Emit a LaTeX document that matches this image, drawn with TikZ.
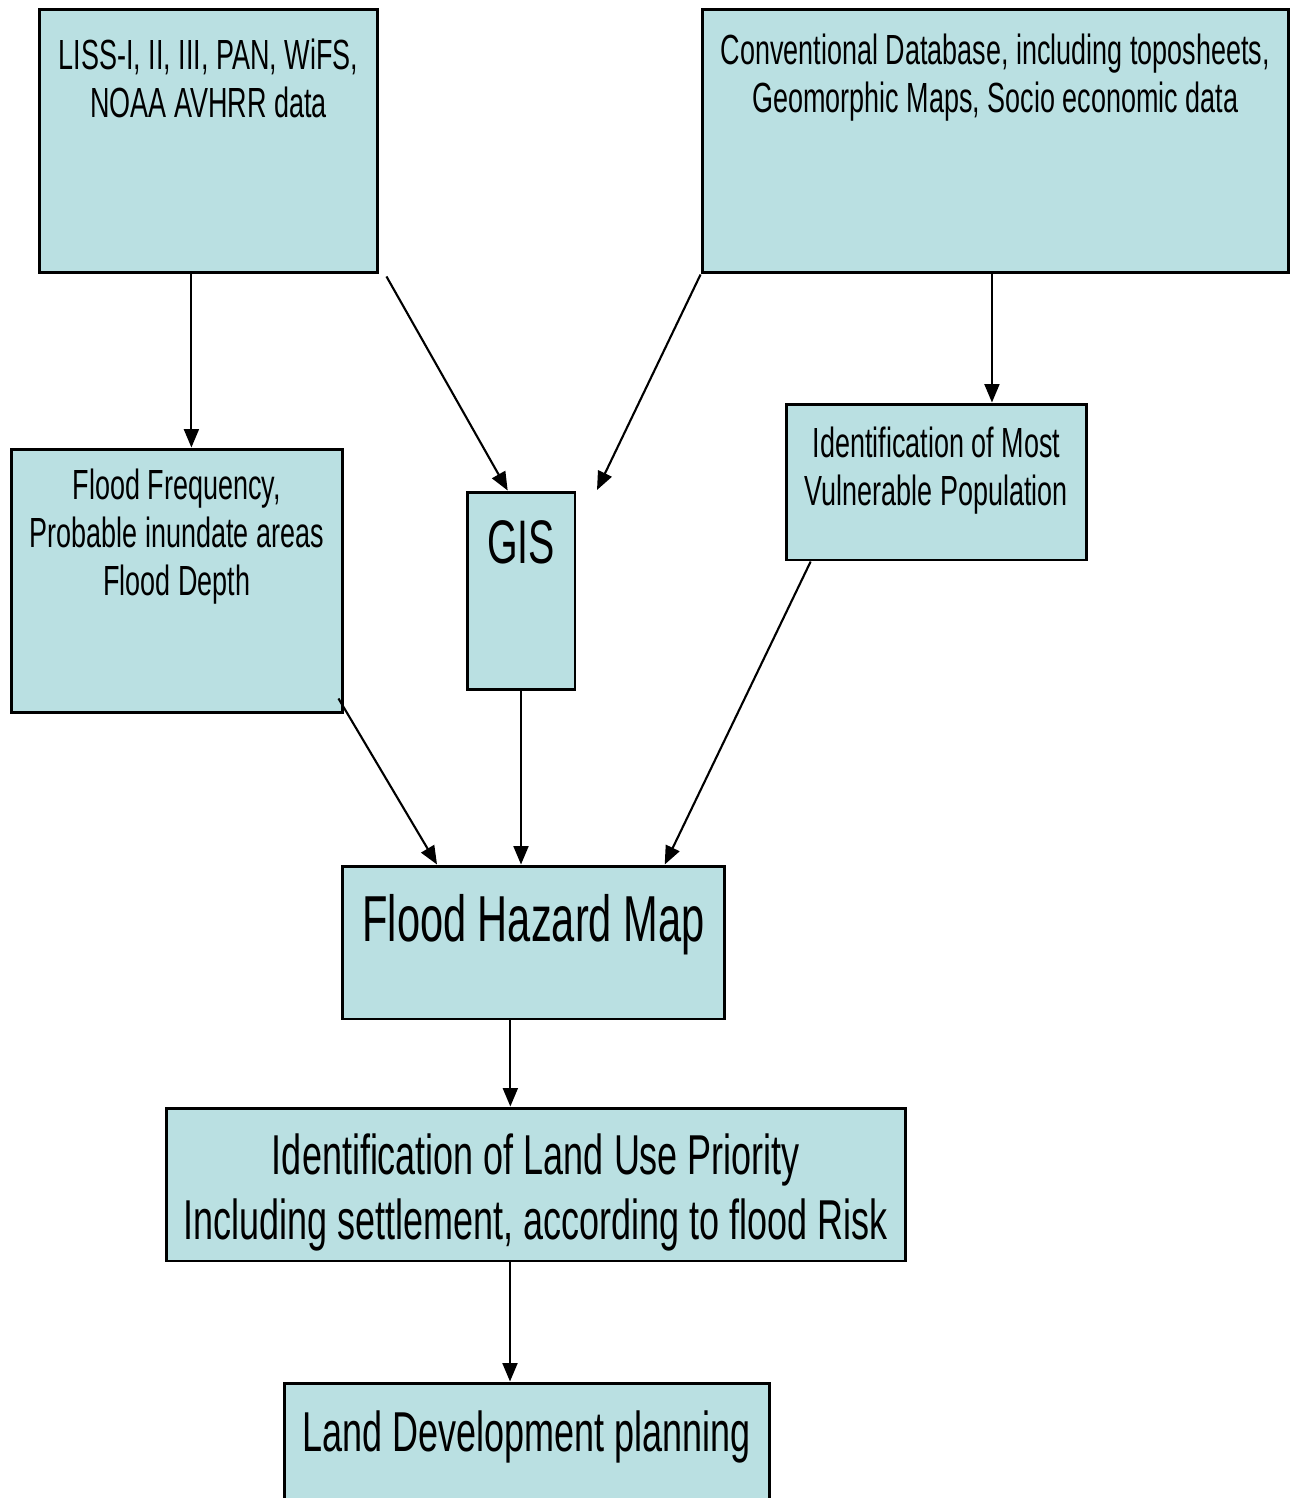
\documentclass[tikz,border=0pt]{standalone}
\usepackage{fontspec}
\setmainfont{Liberation Sans}[FakeStretch=0.64]
\usepackage{xcolor}
\usetikzlibrary{positioning,arrows.meta,calc}
\definecolor{boxfill}{RGB}{186,224,226}

\begin{document}
\begin{tikzpicture}[x=0.02cm,y=-0.02cm,b/.style={draw,line width=1.7pt,fill=boxfill,inner sep=0pt},t/.style={align=center,inner sep=0pt,anchor=north},sm/.style={font=\fontsize{24}{27.2}\selectfont},md/.style={font=\fontsize{32}{37}\selectfont},lg/.style={font=\fontsize{37}{42}\selectfont},arr/.style={->,line width=1.2pt},>={Triangle[length=10.5pt,width=8.5pt]}]
\useasboundingbox (0,0) rectangle (1298,1498);
\clip (0,0) rectangle (1298,1498);
% inputs
\node[b,minimum width=6.78cm,minimum height=5.28cm,label={[t,sm,yshift=-0.62cm]north:{LISS-I, II, III, PAN, WiFS,\\NOAA AVHRR data}}] (liss) at (208.5,141) {};
\node[b,minimum width=11.74cm,minimum height=5.28cm,label={[t,sm,yshift=-0.52cm]north:{Conventional Database, including toposheets,\\Geomorphic Maps, Socio economic data}}] (conv) at (995.5,141) {};
% middle row
\node[b,minimum width=6.64cm,minimum height=5.28cm,label={[t,sm,yshift=-0.42cm]north:{Flood Frequency,\\Probable inundate areas\\Flood Depth}}] (freq) at (177,581) {};
\node[b,minimum width=2.16cm,minimum height=3.96cm,label={[t,font=\fontsize{35}{40}\selectfont,yshift=-0.6cm]north:GIS}] (gis) at (521,591) {};
\node[b,minimum width=6.02cm,minimum height=3.12cm,label={[t,sm,yshift=-0.48cm]north:{Identification of Most\\Vulnerable Population}}] (vuln) at (936.5,482) {};
% outputs
\node[b,minimum width=7.66cm,minimum height=3.06cm,label={[t,lg,yshift=-0.6cm]north:Flood Hazard Map}] (fhm) at (533.5,942.5) {};
\node[b,minimum width=14.8cm,minimum height=3.06cm,label={[t,md,yshift=-0.54cm]north:{Identification of Land Use Priority\\Including settlement, according to flood Risk}}] (use) at (536,1184.5) {};
\node[b,minimum width=9.72cm,minimum height=3.4cm,label={[t,md,yshift=-0.58cm]north:Land Development planning}] (dev) at (527,1468) {};
\coordinate (lf) at ($(liss.south west)!0.45!(liss.south east)$);
\coordinate (cv) at ($(conv.south west)!0.494!(conv.south east)$);
\coordinate (gisr) at (597,490);
\coordinate (fu) at ($(fhm.south west)!0.44!(fhm.south east)$);
\coordinate (ud) at ($(use.south west)!0.465!(use.south east)$);
\draw[arr] (lf) -- (lf |- freq.north);
\draw[arr] ($(liss.south east)+(7,2)$) -- ($(gis.north west)!0.38!(gis.north east)$);
\draw[arr] (conv.south west) -- (gisr);
\draw[arr] (cv) -- (cv |- vuln.north);
\draw[arr] ($(freq.south east)+(-6,-16)$) -- ($(fhm.north west)!0.25!(fhm.north east)$);
\draw[arr] (gis.south) -- (gis.south |- fhm.north);
\draw[arr] ($(vuln.south west)!0.086!(vuln.south east)$) -- ($(fhm.north west)!0.84!(fhm.north east)$);
\draw[arr] (fu) -- (fu |- use.north);
\draw[arr] (ud) -- (ud |- dev.north);
\end{tikzpicture}
\end{document}
